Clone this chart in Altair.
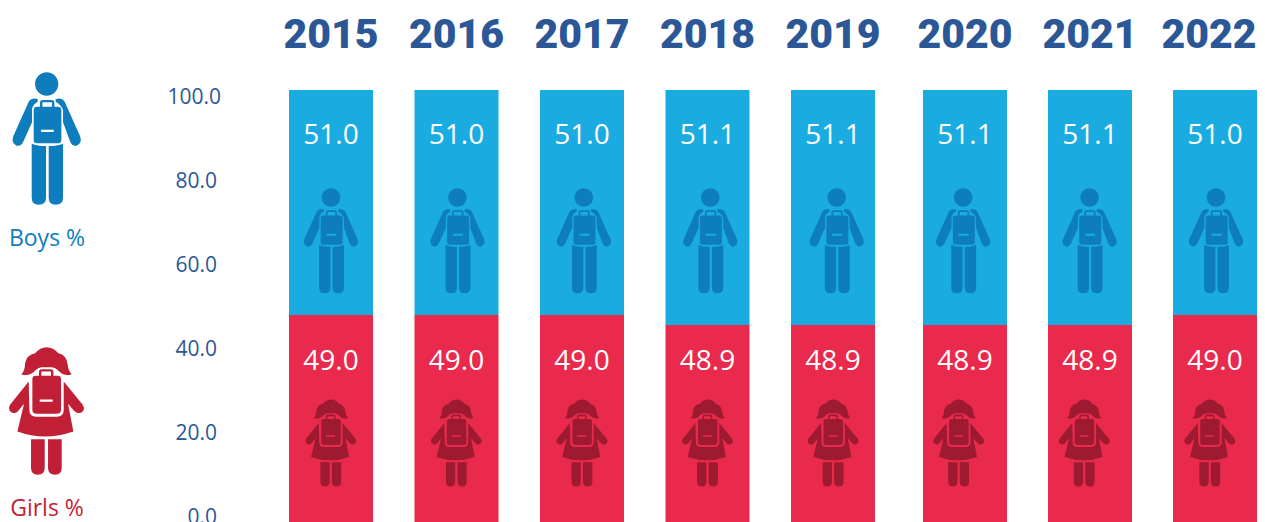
import re
import altair as alt
import pandas as pd

years = [2015, 2016, 2017, 2018, 2019, 2020, 2021, 2022]
boys = [51.0, 51.0, 51.0, 51.1, 51.1, 51.1, 51.1, 51.0]
girls = [49.0, 49.0, 49.0, 48.9, 48.9, 48.9, 48.9, 49.0]
tick_values = [100, 80, 60, 40, 20, 0]
legend_names = ["Boys %", "Girls %"]

BLUE_BAR, BLUE_ICON = "#1AABE0", "#0E7DBD"
RED_BAR, RED_ICON, RED_DARK = "#EA2A4D", "#C11F35", "#9E1A30"
NAVY = "#2B5797"


def norm(path, cx, cy, h=200.0):
    """Scale a path drawn in pixel-like units to the unit square Vega expects."""
    idx = [0]
    def repl(m):
        v = float(m.group(0))
        c = cx if idx[0] % 2 == 0 else cy
        idx[0] += 1
        return f"{(v - c) / h:.4f}"
    return re.sub(r"-?\d+\.?\d*", repl, path)


def circle(x, y, r):
    k = r * 0.5523
    return (f"M{x - r},{y} C{x - r},{y - k} {x - k},{y - r} {x},{y - r} "
            f"C{x + k},{y - r} {x + r},{y - k} {x + r},{y} "
            f"C{x + r},{y + k} {x + k},{y + r} {x},{y + r} "
            f"C{x - k},{y + r} {x - r},{y + k} {x - r},{y} Z ")


BOY = norm(
    circle(140, 72, 35)
    + "M113,117 Q96,111 86,125 L40,228 Q32,248 50,257 Q62,260 69,247 L96,187 L96,150 Q96,135 113,125 Z "
    + "M167,117 Q184,111 194,125 L240,228 Q248,248 230,257 Q218,260 211,247 L189,187 L189,150 Q184,135 167,125 Z "
    + "M120,140 L120,128 Q120,120 128,120 L155,120 Q163,120 163,128 L163,140 L156,140 L156,127 L127,127 L127,140 Z "
    + "M101,150 Q101,140 111,140 L173,140 Q184,140 184,150 L184,240 Q184,250 174,250 L111,250 Q101,250 101,240 Z "
    + "M123,209 L123,216 L161,216 L161,209 Z "
    + "M95,251 Q112,258 138,258 L138,413 Q138,434 116,434 Q95,434 95,413 Z "
    + "M146,258 Q172,258 189,251 L189,413 Q189,434 167,434 Q146,434 146,413 Z",
    140, 235.5,
)

GIRL = norm(
    "M63,133 Q75,125 75,100 Q80,75 105,70 Q120,52 140,52 Q160,52 175,70 Q200,75 203,105 "
    "Q205,125 215,133 Q192,142 172,120 Q165,112 155,112 L125,112 Q115,112 108,120 Q88,142 63,133 Z "
    "M117,138 L117,126 Q117,118 125,118 L152,118 Q160,118 160,126 L160,138 L153,138 L153,125 L124,125 L124,138 Z "
    "M97,148 Q97,138 107,138 L173,138 Q183,138 183,148 L183,240 Q183,252 170,252 L110,252 Q97,252 97,240 Z "
    "M119,209 L119,216 L158,216 L158,209 Z "
    "M86,155 L30,225 Q22,240 35,248 Q47,253 55,243 L72,222 L52,305 Q135,335 220,305 L204,222 "
    "L222,243 Q232,253 244,248 Q257,240 248,225 L191,155 L191,240 Q191,261 170,261 L108,261 Q88,261 88,240 Z "
    "M93,328 L134,328 L134,414 Q134,435 113,435 Q93,435 93,414 Z "
    "M144,328 L185,328 L185,414 Q185,435 165,435 Q144,435 144,414 Z",
    140, 243.5,
)

BIG = 17777
SMALL_BOY = 11180
SMALL_GIRL = 8220

df = pd.DataFrame({
    "year": years,
    "boys": boys,
    "girls": girls,
    "boys_label": [f"{v:.1f}" for v in boys],
    "girls_label": [f"{v:.1f}" for v in girls],
    "full": [round(b + g, 1) for b, g in zip(boys, girls)],
    "zero": [0] * len(years),
})

x_scale = alt.Scale(domain=[2015, 2019, 2020, 2022], range=[323, 825, 957, 1207], padding=0)
y_scale = alt.Scale(domain=[0, 48.9, 49, 100], range=[514, 317, 307, 82], padding=0)
tick_scale = alt.Scale(domain=[0, 100], range=[510, 90], padding=0)
X = alt.X("year:Q", scale=x_scale, axis=None)
X_BOY_ICON = alt.X("year:Q", scale=alt.Scale(domain=[2015, 2022], range=[323, 1208], padding=0), axis=None)
X_GIRL_ICON = alt.X("year:Q", scale=alt.Scale(domain=[2015, 2022], range=[323, 1202], padding=0), axis=None)

base = alt.Chart(df)
girl_bars = base.mark_bar(size=84, orient="vertical", color=RED_BAR).encode(
    x=X, y=alt.Y("zero:Q", scale=y_scale, axis=None), y2="girls:Q")
boy_bars = base.mark_bar(size=84, orient="vertical", color=BLUE_BAR).encode(
    x=X, y=alt.Y("girls:Q", scale=y_scale, axis=None), y2="full:Q")

boy_icons = base.mark_point(shape=BOY, size=SMALL_BOY, filled=True, fill=BLUE_ICON,
                            opacity=1, strokeWidth=0).encode(x=X_BOY_ICON, y=alt.value(232.8))
girl_icons = base.mark_point(shape=GIRL, size=SMALL_GIRL, filled=True, fill=RED_DARK,
                             opacity=1, strokeWidth=0).encode(x=X_GIRL_ICON, y=alt.value(435))


def bar_text(field, ypos):
    return base.mark_text(font="Open Sans", fontSize=28, color="white", baseline="middle",
                          align="center").encode(x=X, y=alt.value(ypos), text=f"{field}:N")


def year_layer(test, dx):
    return base.transform_filter(test).mark_text(
        font="Roboto", fontSize=41, fontWeight=900, color=NAVY,
        baseline="middle", align="center", dx=dx,
    ).encode(x=X, y=alt.value(28), text="year:N")


tick_df = pd.DataFrame({"v": tick_values, "label": [f"{v:.1f}" for v in tick_values]})


def tick_layer(test, dx):
    return alt.Chart(tick_df).transform_filter(test).mark_text(
        font="Open Sans", fontSize=21, color=NAVY, align="right", baseline="middle", dx=dx,
    ).encode(
        x=alt.value(209),
        y=alt.Y("v:Q", scale=tick_scale, axis=None),
        text="label:N",
    )


one = pd.DataFrame({"name": [legend_names[0]]})
two = pd.DataFrame({"name": [legend_names[1]]})
legend = [
    alt.Chart(one).mark_point(shape=BOY, size=BIG, filled=True, fill=BLUE_ICON, opacity=1,
                              strokeWidth=0).encode(x=alt.value(38.7), y=alt.value(130.5)),
    alt.Chart(two).mark_point(shape=GIRL, size=BIG, filled=True, fill=RED_ICON, opacity=1,
                              strokeWidth=0).encode(x=alt.value(38.7), y=alt.value(403)),
    alt.Chart(one).mark_text(font="Open Sans", fontSize=23, color=BLUE_ICON, baseline="middle").encode(
        x=alt.value(39), y=alt.value(231), text="name:N"),
    alt.Chart(two).mark_text(font="Open Sans", fontSize=23, color=RED_ICON, baseline="middle").encode(
        x=alt.value(39), y=alt.value(501), text="name:N"),
]

chart = alt.layer(
    girl_bars, boy_bars, boy_icons, girl_icons,
    bar_text("boys_label", 128), bar_text("girls_label", 353.5),
    year_layer("datum.year < 2022", 0), year_layer("datum.year == 2022", -6),
    tick_layer("datum.v < 100", 0), tick_layer("datum.v == 100", 4),
    *legend,
).resolve_scale(x="independent", y="independent").properties(
    width=1249, height=514, padding=0,
    autosize=alt.AutoSizeParams(type="none"),
).configure_view(stroke=None)

chart.save("out.html", embed_options={"renderer": "svg", "actions": False})
